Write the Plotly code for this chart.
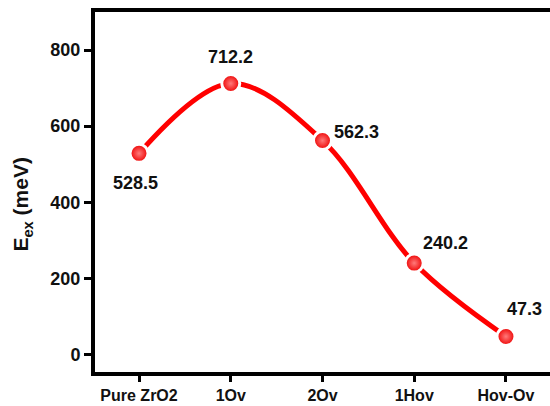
import plotly.graph_objects as go

# Exciton binding energy for each structure
categories = ["Pure ZrO2", "1Ov", "2Ov", "1Hov", "Hov-Ov"]
e_ex = [528.5, 712.2, 562.3, 240.2, 47.3]
y_ticks = [0, 200, 400, 600, 800]

# per-point label offsets in pixels (x, y)
label_shift = [(-4, -30), (0, 26), (34, 9), (31, 20), (19, 27)]

font_family = "Liberation Sans, Arial, sans-serif"

fig = go.Figure()
fig.add_trace(go.Scatter(
    x=categories,
    y=e_ex,
    mode="lines+markers",
    line=dict(color="#ff0000", width=5, shape="spline", smoothing=1.0),
    marker=dict(
        size=18,
        color="#ee0000",
        line=dict(color="white", width=3),
        gradient=dict(type="radial", color="#ff7a7a"),
    ),
    hoverinfo="skip",
))

for cat, val, (dx, dy) in zip(categories, e_ex, label_shift):
    fig.add_annotation(
        x=cat, y=val, text=f"{val:.1f}", showarrow=False,
        xshift=dx, yshift=dy,
        font=dict(family=font_family, size=18, color="#111111", weight="bold"),
    )

# y-axis title, placed as a rotated annotation
fig.add_annotation(
    text="E<sub>ex</sub> (meV)", textangle=-90, showarrow=False,
    xref="paper", yref="paper", x=0, y=0.465,
    xanchor="center", yanchor="middle", xshift=-73,
    font=dict(family=font_family, size=21, color="#111111", weight="bold"),
)

fig.update_layout(
    width=550, height=406,
    margin=dict(l=95, r=0, t=12, b=34),
    paper_bgcolor="white", plot_bgcolor="white",
    showlegend=False,
    font=dict(family=font_family, size=16, color="#111111", weight="bold"),
)
fig.update_xaxes(
    type="category",
    range=[-0.48, 4.48],
    showline=True, linecolor="black", linewidth=4, mirror=True,
    ticks="outside", ticklen=6, tickwidth=3, tickcolor="black",
    showgrid=False, zeroline=False,
    tickfont=dict(family=font_family, size=16, color="#111111", weight="bold"),
)
fig.update_yaxes(
    range=[-46, 900],
    tickvals=y_ticks,
    showline=True, linecolor="black", linewidth=4, mirror=False,
    ticks="outside", ticklen=7, tickwidth=3, tickcolor="black",
    showgrid=False, zeroline=False,
    tickfont=dict(family=font_family, size=18, color="#111111", weight="bold"),
)

fig.write_html("out.html")
